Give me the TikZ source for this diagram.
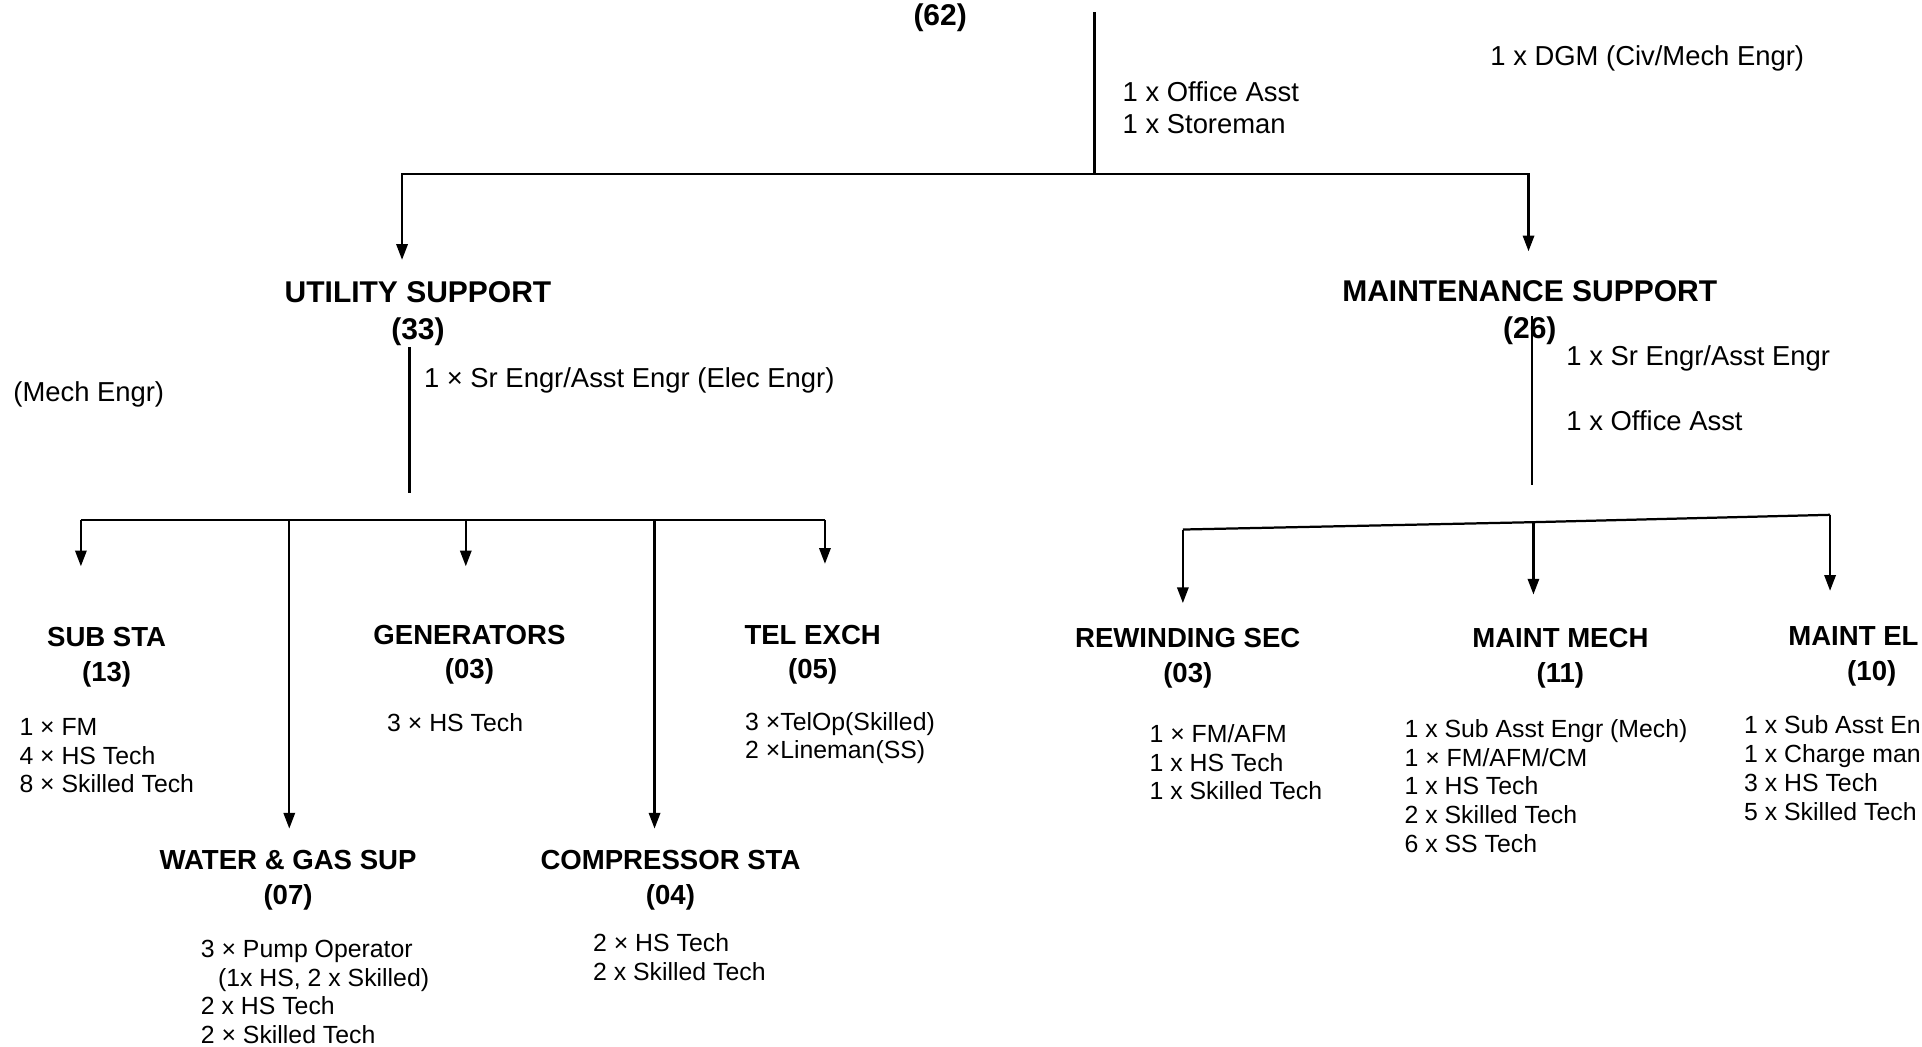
\documentclass[tikz,border=0pt]{standalone}
\usepackage{fontspec}
\setmainfont{Liberation Sans}
\usepackage{tikz}
\usetikzlibrary{arrows.meta, positioning, calc}

\begin{document}
\begin{tikzpicture}[x=0.025cm, y=-0.025cm, line width=1.3pt,
    arr/.style={-{Triangle[length=0.32cm, width=0.23cm]}},
    branch/.style={font=\bfseries\fontsize{17.4}{21.3}\selectfont, align=center, inner sep=0pt, anchor=north},
    dept/.style={font=\bfseries\fontsize{16}{19.9}\selectfont, align=center, inner sep=0pt, anchor=north},
    note/.style={font=\fontsize{15.9}{18.5}\selectfont, align=left, inner sep=0pt, anchor=west},
    staff/.style={font=\fontsize{14.4}{16.7}\selectfont, align=left, inner sep=0pt, anchor=north west}]
  \useasboundingbox (0,0) rectangle (1568,854);
  \clip (0,0) rectangle (1568,854);

  % Top level
  \node[branch] (root) at (767,2) {(62)};
  \node[note] (topstaff) at (915,88) {1 x Office Asst\\1 x Storeman};
  \node[note] (dgm) at (1215,48) {1 x DGM (Civ/Mech Engr)};
  \node[note] (mecheng) at (10,322) {(Mech Engr)};

  \coordinate (rootstem) at (893,10);
  \coordinate (topjoin) at (893,142);
  \draw (rootstem) -- (topjoin);

  % Support branches
  \node[branch] (util) at (341,229) {UTILITY SUPPORT\\(33)};
  \node[branch] (maint) at (1248,228) {MAINTENANCE SUPPORT\\(26)};
  \draw[arr, shorten >=0.425cm] (topjoin) -| ([xshift=-0.325cm]util.north);
  \draw[arr, shorten >=0.575cm] (topjoin) -| ([xshift=-0.025cm]maint.north);

  \node[note] (utilhead) at (345,310) {1 × Sr Engr/Asst Engr (Elec Engr)};
  \node[note] (mainthead) at (1277,292) {1 x Sr Engr/Asst Engr};
  \node[note] (maintoff) at (1277,343) {1 x Office Asst};

  \coordinate (ustem) at (334,402);
  \coordinate (mtop) at (1250,258);
  \coordinate (mstem) at (1250,396);
  \draw (util.south -| ustem) -- (ustem);
  \draw (mtop) -- (mstem);

  % Utility sections
  \node[dept] (sub) at (87,511) {SUB STA\\(13)};
  \node[dept] (gen) at (383,509) {GENERATORS\\(03)};
  \node[dept] (tel) at (663,509) {TEL EXCH\\(05)};
  \node[dept] (water) at (235,693) {WATER \& GAS SUP\\(07)};
  \node[dept] (comp) at (547,693) {COMPRESSOR STA\\(04)};

  \coordinate (ub1) at (66,424);
  \coordinate (ub2) at (236,424);
  \coordinate (ub3) at (380,424);
  \coordinate (ub4) at (534,424);
  \coordinate (ub5) at (673,424);
  \draw (ub1) -- (ub5);
  \draw[arr, shorten >=1.225cm] (ub1) -- (ub1 |- sub.north);
  \draw[arr, shorten >=0.425cm] (ub2) -- (ub2 |- water.north);
  \draw[arr, shorten >=1.175cm] (ub3) -- (ub3 |- gen.north);
  \draw[arr, shorten >=0.425cm] (ub4) -- (ub4 |- comp.north);
  \draw[arr, shorten >=1.225cm] (ub5) -- (ub5 |- tel.north);

  \node[staff] (substaff) at (15,585) {1 × FM\\4 × HS Tech\\8 × Skilled Tech};
  \node[staff] (genstaff) at (315,581) {3 × HS Tech};
  \node[staff] (telstaff) at (607,580) {3 ×TelOp(Skilled)\\2 ×Lineman(SS)};
  \node[staff] (waterstaff) at (163,766) {3 × Pump Operator\\\hspace*{0.35cm}(1x HS, 2 x Skilled)\\2 x HS Tech\\2 × Skilled Tech};
  \node[staff] (compstaff) at (483,761) {2 × HS Tech\\2 x Skilled Tech};

  % Maintenance sections
  \node[dept] (rew) at (969,512) {REWINDING SEC\\(03)};
  \node[dept] (mech) at (1273,512) {MAINT MECH\\(11)};
  \node[dept, anchor=north west] (elec) at (1458,510) {MAINT EL};
  \node[dept] (elecnum) at (1527,538) {(10)};

  \coordinate (mb1) at (965,432);
  \coordinate (mb2) at (1251,426);
  \coordinate (mb3) at (1493,420);
  \draw (mb1) -- (mb2) -- (mb3);
  \draw[arr, shorten >=0.5cm] (mb1) -- (mb1 |- rew.north);
  \draw[arr, shorten >=0.675cm] (mb2) -- (mb2 |- mech.north);
  \draw[arr, shorten >=0.7cm] (mb3) -- (mb3 |- elec.north);

  \node[staff] (rewstaff) at (937,590) {1 × FM/AFM\\1 x HS Tech\\1 x Skilled Tech};
  \node[staff] (mechstaff) at (1145,586) {1 x Sub Asst Engr (Mech)\\1 × FM/AFM/CM\\1 x HS Tech\\2 x Skilled Tech\\6 x SS Tech};
  \node[staff] (elecstaff) at (1422,583) {1 x Sub Asst En\\1 x Charge man\\3 x HS Tech\\5 x Skilled Tech};
\end{tikzpicture}
\end{document}
